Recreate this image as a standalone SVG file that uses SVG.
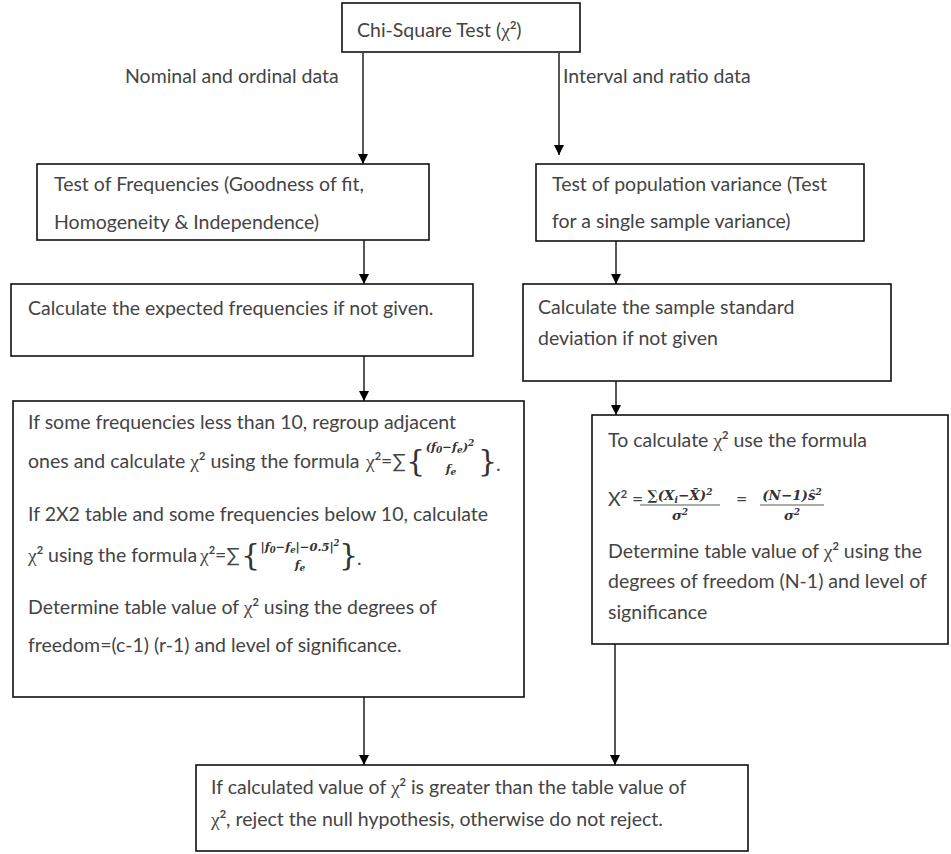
<svg xmlns="http://www.w3.org/2000/svg" width="951" height="854" viewBox="0 0 951 854">
<defs>
<marker id="arr" markerUnits="userSpaceOnUse" markerWidth="10" markerHeight="12" refX="10" refY="5" orient="auto">
<path d="M0,0 L10,5 L0,10 z" fill="#000"/>
</marker>
</defs>
<style>
.box{fill:#fff;stroke:#111;stroke-width:1.6}
.t{font-family:Lato,"Liberation Sans",sans-serif;font-size:19.5px;fill:#444}
.g{font-family:"Liberation Serif","DejaVu Serif",serif}
.sup{font-size:11px;font-weight:bold}
.m{font-family:"DejaVu Serif","Liberation Serif",serif;font-style:italic;font-weight:bold;font-size:11.5px;fill:#333}
.m2{font-family:"DejaVu Serif","Liberation Serif",serif;font-style:italic;font-weight:bold;font-size:13.5px;fill:#333}
.br{font-family:"DejaVu Serif","Liberation Serif",serif;font-size:30px;fill:#333}
.c{stroke:#111;stroke-width:1.4;fill:none;marker-end:url(#arr)}
.bar{stroke:#444;stroke-width:0.9}
</style>
<rect width="951" height="854" fill="#fff"/>
<g id="connectors">
<line class="c" x1="363" y1="53" x2="363" y2="164"/>
<line class="c" x1="559" y1="53" x2="559" y2="155"/>
<line class="c" x1="364" y1="240" x2="364" y2="284"/>
<line class="c" x1="364" y1="356" x2="364" y2="401"/>
<line class="c" x1="616" y1="241" x2="616" y2="284"/>
<line class="c" x1="616" y1="381" x2="616" y2="415"/>
<line class="c" x1="364" y1="697" x2="364" y2="765"/>
<line class="c" x1="615" y1="644" x2="615" y2="765"/>
</g>
<g id="labels">
<text class="t" x="125" y="83">Nominal and ordinal data</text>
<text class="t" x="563" y="83">Interval and ratio data</text>
</g>
<g id="n-title">
<rect class="box" x="342" y="3" width="238" height="49"/>
<text class="t" x="357" y="37">Chi-Square Test (<tspan class="g">χ</tspan><tspan class="sup" dy="-8">2</tspan><tspan dy="8">)</tspan></text>
</g>
<g id="n-freq">
<rect class="box" x="37" y="164" width="392" height="76"/>
<text class="t" x="54" y="191">Test of Frequencies (Goodness of fit,</text>
<text class="t" x="54" y="229">Homogeneity &amp; Independence)</text>
</g>
<g id="n-expected">
<rect class="box" x="11" y="284" width="462" height="72"/>
<text class="t" x="28" y="315">Calculate the expected frequencies if not given.</text>
</g>
<g id="n-popvar">
<rect class="box" x="536" y="164" width="328" height="77"/>
<text class="t" x="552" y="191">Test of population variance (Test</text>
<text class="t" x="552" y="228">for a single sample variance)</text>
</g>
<g id="n-sample">
<rect class="box" x="523" y="284" width="368" height="97"/>
<text class="t" x="538" y="314">Calculate the sample standard</text>
<text class="t" x="538" y="345">deviation if not given</text>
</g>
<g id="n-left">
<rect class="box" x="13" y="401" width="511" height="296"/>
<text class="t" x="28" y="429">If some frequencies less than 10, regroup adjacent</text>
<text class="t" x="28" y="468">ones and calculate <tspan class="g">χ</tspan><tspan class="sup" dy="-8">2</tspan><tspan dy="8"> using the formula</tspan></text>
<text class="t" x="366" y="468"><tspan class="g">χ</tspan><tspan class="sup" dy="-8">2</tspan><tspan dy="8">=∑</tspan></text>
<text class="br" x="406" y="471">{</text>
<text class="m" x="450" y="451" text-anchor="middle">(f<tspan font-size="9" dy="2">0</tspan><tspan dy="-2">−f</tspan><tspan font-size="9" dy="2">e</tspan><tspan dy="-2">)</tspan><tspan font-size="9" dy="-5">2</tspan></text>
<text class="m" x="451" y="473" text-anchor="middle">f<tspan font-size="9" dy="2">e</tspan></text>
<text class="br" x="478" y="471">}</text>
<text class="t" x="496" y="471">.</text>
<text class="t" x="28" y="521">If 2X2 table and some frequencies below 10, calculate</text>
<text class="t" x="28" y="562"><tspan class="g">χ</tspan><tspan class="sup" dy="-8">2</tspan><tspan dy="8"> using the formula</tspan></text>
<text class="t" x="200" y="562"><tspan class="g">χ</tspan><tspan class="sup" dy="-8">2</tspan><tspan dy="8">=∑</tspan></text>
<text class="br" x="241" y="565">{</text>
<text class="m" x="300" y="551" text-anchor="middle">|f<tspan font-size="8.5" dy="2">0</tspan><tspan dy="-2">−f</tspan><tspan font-size="8.5" dy="2">e</tspan><tspan dy="-2">|−0.5|</tspan><tspan font-size="8.5" dy="-5">2</tspan></text>
<text class="m" x="300" y="569" text-anchor="middle">f<tspan font-size="9" dy="2">e</tspan></text>
<text class="br" x="339" y="565">}</text>
<text class="t" x="357" y="565">.</text>
<text class="t" x="28" y="614">Determine table value of <tspan class="g">χ</tspan><tspan class="sup" dy="-8">2</tspan><tspan dy="8"> using the degrees of</tspan></text>
<text class="t" x="28" y="652">freedom=(c-1) (r-1) and level of significance.</text>
</g>
<g id="n-right">
<rect class="box" x="592" y="415" width="356" height="229"/>
<text class="t" x="608" y="447">To calculate <tspan class="g">χ</tspan><tspan class="sup" dy="-8">2</tspan><tspan dy="8"> use the formula</tspan></text>
<text class="t" x="608" y="506">Χ<tspan class="sup" dy="-8">2</tspan><tspan dy="8"> =</tspan></text>
<text class="m2" x="680" y="500" text-anchor="middle">∑(X<tspan font-size="9" dy="3">i</tspan><tspan dy="-3">−X̄)</tspan><tspan font-size="9" dy="-5">2</tspan></text>
<line class="bar" x1="640" y1="505" x2="720" y2="505"/>
<text class="m2" x="680" y="520" text-anchor="middle">σ<tspan font-size="9" dy="-5">2</tspan></text>
<text class="t" x="736" y="506">=</text>
<text class="m2" x="792" y="500" text-anchor="middle">(N−1)ŝ<tspan font-size="9" dy="-5">2</tspan></text>
<line class="bar" x1="760" y1="505" x2="824" y2="505"/>
<text class="m2" x="792" y="520" text-anchor="middle">σ<tspan font-size="9" dy="-5">2</tspan></text>
<text class="t" x="608" y="558">Determine table value of <tspan class="g">χ</tspan><tspan class="sup" dy="-8">2</tspan><tspan dy="8"> using the</tspan></text>
<text class="t" x="608" y="588">degrees of freedom (N-1) and level of</text>
<text class="t" x="608" y="619">significance</text>
</g>
<g id="n-bottom">
<rect class="box" x="196" y="765" width="552" height="86"/>
<text class="t" x="211" y="794">If calculated value of <tspan class="g">χ</tspan><tspan class="sup" dy="-8">2</tspan><tspan dy="8"> is greater than the table value of</tspan></text>
<text class="t" x="211" y="826"><tspan class="g">χ</tspan><tspan class="sup" dy="-8">2</tspan><tspan dy="8">, reject the null hypothesis, otherwise do not reject.</tspan></text>
</g>
</svg>
